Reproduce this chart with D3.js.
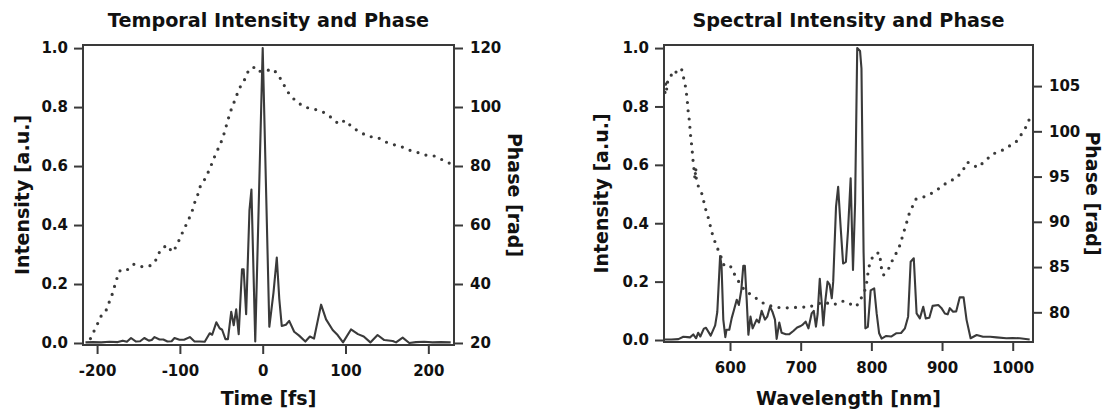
<!DOCTYPE html>
<html>
<head>
<meta charset="utf-8">
<script src="https://cdn.jsdelivr.net/npm/d3@7"></script>
<style>
  body { margin: 0; background: #fff; }
  svg text { font-family: "DejaVu Sans", Verdana, sans-serif; font-weight: bold; fill: #111; }
</style>
</head>
<body>
<svg id="chart" width="1107" height="410"></svg>
<script>
// temporal: time [fs], intensity [a.u.], phase [rad]
var timeIntensity = [
  [-214,0.002],[-205,0.003],[-195,0.002],[-185,0.004],[-175,0.003],[-169,0.008],[-164,0.004],[-159,0.017],
  [-153,0.005],[-148,0.006],[-143,0.017],[-137.5,0.008],[-134,0.01],[-130.6,0.02],[-124.6,0.012],[-120,0.012],
  [-115,0.005],[-110,0.006],[-106.5,0.017],[-100.5,0.011],[-95,0.011],[-88,0.02],[-82.3,0.005],[-76,0.005],
  [-70,0.004],[-64,0.033],[-61,0.028],[-56,0.07],[-52,0.05],[-49,0.045],[-45,0.013],[-42,0.013],[-38,0.106],
  [-35,0.06],[-32,0.114],[-29,0.03],[-25,0.25],[-23,0.25],[-20,0.098],[-16,0.45],[-13.6,0.52],[-9,0.005],
  [0,1.0],[8,0.055],[13,0.17],[17,0.29],[20,0.15],[23,0.058],[28,0.062],[32,0.075],[38,0.038],[44,0.025],
  [51.5,0.005],[57,0.022],[62,0.015],[70.5,0.13],[76.5,0.08],[84.5,0.044],[90.5,0.027],[97,0.002],
  [106.6,0.046],[115,0.03],[122,0.022],[130,0.002],[138.7,0.027],[146.8,0.01],[157,0.007],[161,0.002],
  [169,0.018],[177,0.0],[185,0.003],[195,0.004],[205,0.002],[215,0.003],[227,0.002]
];
var timePhase = [
  [-208,21.5],[-205,23.3],[-200,26.1],[-196,28.9],[-190,30.4],[-186,33.4],[-182,36.3],[-179,39.1],
  [-176,41.9],[-172,44.7],[-164,44.7],[-156,46.7],[-149,46],[-143,45.8],[-134.6,46.3],[-128,48.5],
  [-124,51.3],[-116,53.2],[-109,50.8],[-104,52.9],[-99.6,55.8],[-95,58.6],[-90,61.5],[-85.5,64.4],
  [-82.4,67.4],[-78.5,70.2],[-75.5,73],[-70,75.5],[-65,78.4],[-61,81.1],[-57,84],[-52,86.9],[-48,89.7],
  [-45,92.6],[-42,95.6],[-39,98.4],[-35,101.3],[-31.4,104],[-27,106.9],[-21,109.7],[-17,112.5],
  [-11,113.5],[-7,112],[3,112.3],[13,112.8],[20,110.3],[26,107.3],[32,104.4],[41,101.7],[51.5,99.9],
  [62,99.3],[72.4,98.4],[82.5,96.5],[92,94.2],[99.6,95.5],[108.6,93],[118.7,91.3],[128.3,90],
  [138.7,89.7],[148,88.2],[157.7,87.3],[168,86.5],[177,85.4],[187,84.6],[197,83.7],[207,83.4],
  [217,82.1],[226,80.9]
];

// spectral: wavelength [nm], intensity [a.u.], phase [rad]
var specIntensity = [
  [508,0.002],[517,0.002],[527,0.003],[534,0.011],[540,0.01],[543.4,0.009],[548,0.019],[552,0.006],
  [555,0.025],[558,0.012],[563,0.039],[566,0.042],[572.7,0.015],[579,0.05],[582,0.096],[586,0.288],
  [588,0.255],[590.5,0.07],[593.4,0.01],[595,0.035],[599,0.035],[602.4,0.075],[605.6,0.103],[609.5,0.138],
  [612.5,0.12],[616,0.172],[618.8,0.254],[621,0.254],[623.6,0.138],[626,0.018],[629,0.08],[632,0.04],
  [637.7,0.07],[641,0.06],[644.8,0.1],[649.5,0.07],[652.7,0.08],[656.6,0.114],[660,0.097],[663.6,0.07],
  [666,0.004],[669.7,0.06],[673,0.025],[679,0.02],[684,0.02],[689.6,0.031],[695,0.043],[700,0.048],
  [703,0.053],[707,0.063],[711,0.04],[715.5,0.091],[718.5,0.1],[721.6,0.046],[724,0.09],[727,0.21],
  [730,0.12],[732,0.05],[735,0.137],[738,0.2],[741,0.19],[744,0.143],[746,0.2],[750,0.457],[753,0.525],
  [756.5,0.388],[760,0.262],[764,0.268],[767,0.377],[770.7,0.554],[774,0.24],[777,0.47],[780,1.0],
  [784,0.99],[786,0.93],[789,0.3],[791.5,0.04],[795,0.045],[799,0.17],[804,0.177],[807.5,0.091],
  [811,0.023],[814.5,0.005],[821,0.014],[828,0.012],[835,0.023],[842,0.024],[847.5,0.04],[852,0.08],
  [855.6,0.268],[860,0.28],[864,0.091],[868.6,0.074],[873.4,0.114],[877,0.074],[882,0.076],[886.7,0.117],
  [894.7,0.12],[899,0.11],[904,0.091],[908,0.088],[911,0.109],[915.7,0.097],[920,0.098],[925,0.146],
  [930.5,0.146],[934.7,0.069],[940.4,0.006],[949,0.017],[958,0.011],[968,0.011],[977,0.009],[991,0.006],
  [1000,0.007],[1010,0.006],[1024,0.002]
];
var specPhase = [
  [508,104.3],[509,105.4],[510.5,104.6],[512,105.7],[515,105.9],[518,106.4],[521,106.2],[524,106.6],
  [527,106.4],[531.7,106.8],[535,105.7],[537.5,104.75],[538.8,103.9],[540,103],[541,102],[542.5,101.2],
  [543.5,100.2],[544.5,99.3],[546,98.3],[547,97.4],[548,96.5],[549.5,95.5],[550.5,94.7],[551.5,96],
  [552.5,94.4],[556.6,93.7],[561.4,92.9],[563.7,91.9],[567,91],[570.7,90.1],[573,89.2],[576.4,88.3],
  [581,87.3],[586,86.4],[591.5,85.2],[600,85.2],[607,84.1],[613,83.3],[621,82.4],[627,82.1],[634.4,81.7],
  [641.5,81.3],[649.5,80.9],[658,80.7],[666,80.55],[674.5,80.5],[685,80.5],[694,80.55],[702.8,80.6],
  [710,80.5],[719,80.8],[727,81],[734.4,81.1],[746,80.8],[758,81.25],[767.3,81.1],[776,80.6],[781.5,80.9],
  [787,81.8],[792,82.65],[794,83.6],[795.6,84.6],[798,85.5],[803.7,86.4],[811,86.6],[813,85.7],
  [814.5,84.75],[817,84.1],[826,85],[831,86],[838,86.9],[842,87.8],[845,88.7],[849,89.6],[852,90.6],
  [857,91.5],[863,92.5],[872.5,92.7],[884,93.1],[896,93.7],[908,94.4],[919.7,94.8],[929,95.6],
  [935.6,96.6],[943,96.35],[950,96],[960.7,96.7],[971.5,97.5],[983,97.8],[993.6,98.3],[1004.5,98.8],
  [1013.4,99.8],[1019.7,100.6],[1025.3,101.7]
];

var intensityTicks = [0, 0.2, 0.4, 0.6, 0.8, 1.0];
var timeTicks = [-200, -100, 0, 100, 200];
var timePhaseTicks = [20, 40, 60, 80, 100, 120];
var wlTicks = [600, 700, 800, 900, 1000];
var wlPhaseTicks = [80, 85, 90, 95, 100, 105];

var svg = d3.select("#chart");
var ink = "#3a3a3a";
var plainInt = function (d) { return String(d); };   // hyphen minus, like the original

function drawPanel(cfg) {
  var x = d3.scaleLinear().domain(cfg.xDomain).range([cfg.left, cfg.right]);
  var yI = d3.scaleLinear().domain([-0.0068, 1.0105]).range([cfg.bottom, cfg.top]);
  var yP = d3.scaleLinear().domain(cfg.pDomain).range([cfg.bottom, cfg.top]);
  var g = svg.append("g");

  g.append("path")
    .datum(cfg.phase)
    .attr("fill", "none")
    .attr("stroke", ink)
    .attr("stroke-width", 3.2)
    .attr("stroke-linecap", "round")
    .attr("stroke-dasharray", "0 8.3")
    .attr("d", d3.line().x(function (d) { return x(d[0]); }).y(function (d) { return yP(d[1]); }));

  g.append("path")
    .datum(cfg.intensity)
    .attr("fill", "none")
    .attr("stroke", ink)
    .attr("stroke-width", 2.1)
    .attr("stroke-linejoin", "round")
    .attr("d", d3.line().x(function (d) { return x(d[0]); }).y(function (d) { return yI(d[1]); }));

  g.append("rect")
    .attr("x", cfg.left).attr("y", cfg.top)
    .attr("width", cfg.right - cfg.left).attr("height", cfg.bottom - cfg.top)
    .attr("fill", "none").attr("stroke", ink).attr("stroke-width", 2);

  function styleAxis(sel) {
    sel.select(".domain").remove();
    sel.selectAll(".tick line").attr("stroke", ink).attr("stroke-width", 2);
    sel.selectAll(".tick text").style("font-size", "15px").attr("fill", "#111");
  }

  g.append("g")
    .attr("transform", "translate(0," + cfg.bottom + ")")
    .call(d3.axisBottom(x).tickValues(cfg.xTicks).tickFormat(plainInt).tickSizeOuter(0).tickSize(9).tickPadding(11))
    .call(styleAxis);
  g.append("g")
    .attr("transform", "translate(" + cfg.left + ",0)")
    .call(d3.axisLeft(yI).tickValues(intensityTicks).tickFormat(d3.format(".1f")).tickSizeOuter(0).tickSize(9).tickPadding(6))
    .call(styleAxis);
  g.append("g")
    .attr("transform", "translate(" + cfg.right + ",0)")
    .call(d3.axisRight(yP).tickValues(cfg.pTicks).tickFormat(plainInt).tickSizeOuter(0).tickSize(9).tickPadding(7))
    .call(styleAxis);

  var cx = (cfg.left + cfg.right) / 2, cy = (cfg.top + cfg.bottom) / 2;
  g.append("text").attr("x", cx).attr("y", 26.5).attr("text-anchor", "middle")
    .style("font-size", "19.2px").text(cfg.title);
  g.append("text").attr("x", cx).attr("y", 404.5).attr("text-anchor", "middle")
    .style("font-size", "19px").text(cfg.xLabel);
  g.append("text").attr("transform", "translate(" + cfg.yLabelX + "," + cy + ") rotate(-90)")
    .attr("text-anchor", "middle").attr("dy", "0.35em")
    .style("font-size", "19px").text("Intensity [a.u.]");
  g.append("text").attr("transform", "translate(" + cfg.pLabelX + "," + cy + ") rotate(90)")
    .attr("text-anchor", "middle").attr("dy", "0.35em")
    .style("font-size", "19px").text("Phase [rad]");
}

drawPanel({
  left: 83, right: 454, top: 45, bottom: 345,
  xDomain: [-217, 231], pDomain: [19.32, 121.02],
  xTicks: timeTicks, pTicks: timePhaseTicks,
  intensity: timeIntensity, phase: timePhase,
  title: "Temporal Intensity and Phase", xLabel: "Time [fs]",
  yLabelX: 22, pLabelX: 515
});

drawPanel({
  left: 664, right: 1033, top: 45, bottom: 342,
  xDomain: [506.6, 1028.7], pDomain: [76.72, 109.54],
  xTicks: wlTicks, pTicks: wlPhaseTicks,
  intensity: specIntensity, phase: specPhase,
  title: "Spectral Intensity and Phase", xLabel: "Wavelength [nm]",
  yLabelX: 601, pLabelX: 1093
});
</script>
</body>
</html>
